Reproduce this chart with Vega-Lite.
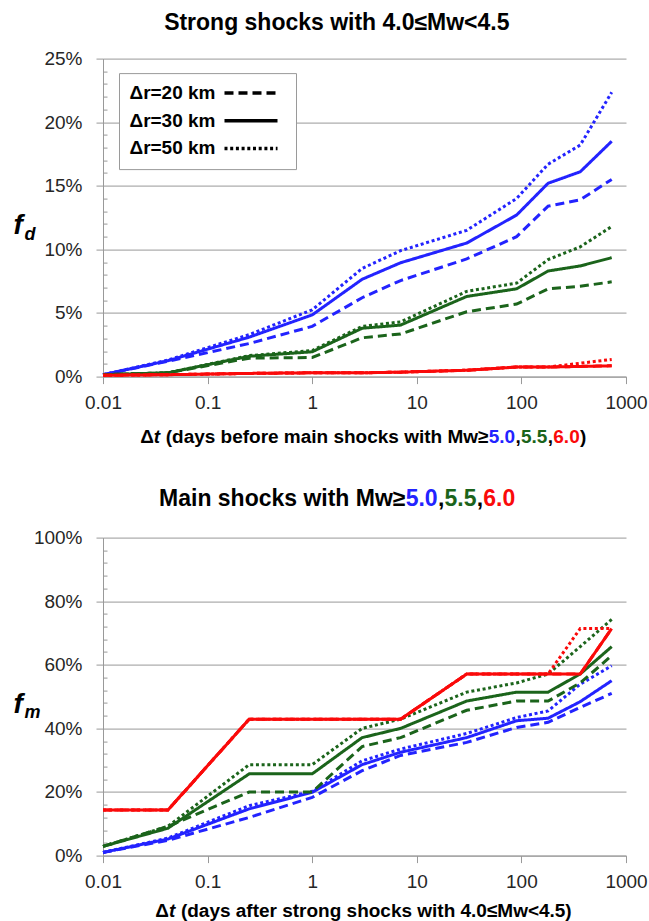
{
  "$schema": "https://vega.github.io/schema/vega-lite/v6.json",
  "padding": {"left": 13, "top": 10.6, "right": 5, "bottom": 2},
  "bounds": "flush",
  "spacing": 161,
  "datasets": {
    "top": [
      {"mw":"5.0","dr":"Δr=20 km","t":0.01,"f":0.15},{"mw":"5.0","dr":"Δr=20 km","t":0.0417,"f":1.2},{"mw":"5.0","dr":"Δr=20 km","t":0.25,"f":2.6},{"mw":"5.0","dr":"Δr=20 km","t":1,"f":3.95},{"mw":"5.0","dr":"Δr=20 km","t":3,"f":6.2},{"mw":"5.0","dr":"Δr=20 km","t":7,"f":7.55},{"mw":"5.0","dr":"Δr=20 km","t":30,"f":9.25},{"mw":"5.0","dr":"Δr=20 km","t":90,"f":11.0},{"mw":"5.0","dr":"Δr=20 km","t":180,"f":13.4},{"mw":"5.0","dr":"Δr=20 km","t":365,"f":13.9},{"mw":"5.0","dr":"Δr=20 km","t":730,"f":15.5},
      {"mw":"5.0","dr":"Δr=30 km","t":0.01,"f":0.15},{"mw":"5.0","dr":"Δr=30 km","t":0.0417,"f":1.25},{"mw":"5.0","dr":"Δr=30 km","t":0.25,"f":3.1},{"mw":"5.0","dr":"Δr=30 km","t":1,"f":4.85},{"mw":"5.0","dr":"Δr=30 km","t":3,"f":7.65},{"mw":"5.0","dr":"Δr=30 km","t":7,"f":8.95},{"mw":"5.0","dr":"Δr=30 km","t":30,"f":10.5},{"mw":"5.0","dr":"Δr=30 km","t":90,"f":12.7},{"mw":"5.0","dr":"Δr=30 km","t":180,"f":15.2},{"mw":"5.0","dr":"Δr=30 km","t":365,"f":16.1},{"mw":"5.0","dr":"Δr=30 km","t":730,"f":18.5},
      {"mw":"5.0","dr":"Δr=50 km","t":0.01,"f":0.15},{"mw":"5.0","dr":"Δr=50 km","t":0.0417,"f":1.3},{"mw":"5.0","dr":"Δr=50 km","t":0.25,"f":3.3},{"mw":"5.0","dr":"Δr=50 km","t":1,"f":5.25},{"mw":"5.0","dr":"Δr=50 km","t":3,"f":8.5},{"mw":"5.0","dr":"Δr=50 km","t":7,"f":9.9},{"mw":"5.0","dr":"Δr=50 km","t":30,"f":11.5},{"mw":"5.0","dr":"Δr=50 km","t":90,"f":14.0},{"mw":"5.0","dr":"Δr=50 km","t":180,"f":16.7},{"mw":"5.0","dr":"Δr=50 km","t":365,"f":18.2},{"mw":"5.0","dr":"Δr=50 km","t":730,"f":22.35},
      {"mw":"5.5","dr":"Δr=20 km","t":0.01,"f":0.15},{"mw":"5.5","dr":"Δr=20 km","t":0.0417,"f":0.3},{"mw":"5.5","dr":"Δr=20 km","t":0.25,"f":1.45},{"mw":"5.5","dr":"Δr=20 km","t":1,"f":1.5},{"mw":"5.5","dr":"Δr=20 km","t":3,"f":3.05},{"mw":"5.5","dr":"Δr=20 km","t":7,"f":3.35},{"mw":"5.5","dr":"Δr=20 km","t":30,"f":5.1},{"mw":"5.5","dr":"Δr=20 km","t":90,"f":5.7},{"mw":"5.5","dr":"Δr=20 km","t":180,"f":6.9},{"mw":"5.5","dr":"Δr=20 km","t":365,"f":7.1},{"mw":"5.5","dr":"Δr=20 km","t":730,"f":7.45},
      {"mw":"5.5","dr":"Δr=30 km","t":0.01,"f":0.15},{"mw":"5.5","dr":"Δr=30 km","t":0.0417,"f":0.3},{"mw":"5.5","dr":"Δr=30 km","t":0.25,"f":1.6},{"mw":"5.5","dr":"Δr=30 km","t":1,"f":1.95},{"mw":"5.5","dr":"Δr=30 km","t":3,"f":3.8},{"mw":"5.5","dr":"Δr=30 km","t":7,"f":4.05},{"mw":"5.5","dr":"Δr=30 km","t":30,"f":6.3},{"mw":"5.5","dr":"Δr=30 km","t":90,"f":6.9},{"mw":"5.5","dr":"Δr=30 km","t":180,"f":8.3},{"mw":"5.5","dr":"Δr=30 km","t":365,"f":8.7},{"mw":"5.5","dr":"Δr=30 km","t":730,"f":9.35},
      {"mw":"5.5","dr":"Δr=50 km","t":0.01,"f":0.15},{"mw":"5.5","dr":"Δr=50 km","t":0.0417,"f":0.3},{"mw":"5.5","dr":"Δr=50 km","t":0.25,"f":1.65},{"mw":"5.5","dr":"Δr=50 km","t":1,"f":2.05},{"mw":"5.5","dr":"Δr=50 km","t":3,"f":3.95},{"mw":"5.5","dr":"Δr=50 km","t":7,"f":4.3},{"mw":"5.5","dr":"Δr=50 km","t":30,"f":6.7},{"mw":"5.5","dr":"Δr=50 km","t":90,"f":7.35},{"mw":"5.5","dr":"Δr=50 km","t":180,"f":9.2},{"mw":"5.5","dr":"Δr=50 km","t":365,"f":10.2},{"mw":"5.5","dr":"Δr=50 km","t":730,"f":11.8},
      {"mw":"6.0","dr":"Δr=20 km","t":0.01,"f":0.1},{"mw":"6.0","dr":"Δr=20 km","t":0.0417,"f":0.15},{"mw":"6.0","dr":"Δr=20 km","t":0.25,"f":0.25},{"mw":"6.0","dr":"Δr=20 km","t":1,"f":0.3},{"mw":"6.0","dr":"Δr=20 km","t":3,"f":0.3},{"mw":"6.0","dr":"Δr=20 km","t":7,"f":0.35},{"mw":"6.0","dr":"Δr=20 km","t":30,"f":0.5},{"mw":"6.0","dr":"Δr=20 km","t":90,"f":0.75},{"mw":"6.0","dr":"Δr=20 km","t":180,"f":0.75},{"mw":"6.0","dr":"Δr=20 km","t":365,"f":0.8},{"mw":"6.0","dr":"Δr=20 km","t":730,"f":0.85},
      {"mw":"6.0","dr":"Δr=30 km","t":0.01,"f":0.1},{"mw":"6.0","dr":"Δr=30 km","t":0.0417,"f":0.15},{"mw":"6.0","dr":"Δr=30 km","t":0.25,"f":0.25},{"mw":"6.0","dr":"Δr=30 km","t":1,"f":0.3},{"mw":"6.0","dr":"Δr=30 km","t":3,"f":0.3},{"mw":"6.0","dr":"Δr=30 km","t":7,"f":0.35},{"mw":"6.0","dr":"Δr=30 km","t":30,"f":0.5},{"mw":"6.0","dr":"Δr=30 km","t":90,"f":0.75},{"mw":"6.0","dr":"Δr=30 km","t":180,"f":0.75},{"mw":"6.0","dr":"Δr=30 km","t":365,"f":0.8},{"mw":"6.0","dr":"Δr=30 km","t":730,"f":0.85},
      {"mw":"6.0","dr":"Δr=50 km","t":0.01,"f":0.1},{"mw":"6.0","dr":"Δr=50 km","t":0.0417,"f":0.15},{"mw":"6.0","dr":"Δr=50 km","t":0.25,"f":0.25},{"mw":"6.0","dr":"Δr=50 km","t":1,"f":0.3},{"mw":"6.0","dr":"Δr=50 km","t":3,"f":0.3},{"mw":"6.0","dr":"Δr=50 km","t":7,"f":0.35},{"mw":"6.0","dr":"Δr=50 km","t":30,"f":0.5},{"mw":"6.0","dr":"Δr=50 km","t":90,"f":0.75},{"mw":"6.0","dr":"Δr=50 km","t":180,"f":0.75},{"mw":"6.0","dr":"Δr=50 km","t":365,"f":1.05},{"mw":"6.0","dr":"Δr=50 km","t":730,"f":1.35}
    ],
    "bottom": [
      {"mw":"5.0","dr":"Δr=20 km","t":0.01,"f":1.0},{"mw":"5.0","dr":"Δr=20 km","t":0.0417,"f":4.8},{"mw":"5.0","dr":"Δr=20 km","t":0.25,"f":12.0},{"mw":"5.0","dr":"Δr=20 km","t":1,"f":18.3},{"mw":"5.0","dr":"Δr=20 km","t":3,"f":26.7},{"mw":"5.0","dr":"Δr=20 km","t":7,"f":31.5},{"mw":"5.0","dr":"Δr=20 km","t":30,"f":35.6},{"mw":"5.0","dr":"Δr=20 km","t":90,"f":40.3},{"mw":"5.0","dr":"Δr=20 km","t":180,"f":41.9},{"mw":"5.0","dr":"Δr=20 km","t":365,"f":46.6},{"mw":"5.0","dr":"Δr=20 km","t":730,"f":51.0},
      {"mw":"5.0","dr":"Δr=30 km","t":0.01,"f":1.0},{"mw":"5.0","dr":"Δr=30 km","t":0.0417,"f":5.2},{"mw":"5.0","dr":"Δr=30 km","t":0.25,"f":14.7},{"mw":"5.0","dr":"Δr=30 km","t":1,"f":19.9},{"mw":"5.0","dr":"Δr=30 km","t":3,"f":28.6},{"mw":"5.0","dr":"Δr=30 km","t":7,"f":32.5},{"mw":"5.0","dr":"Δr=30 km","t":30,"f":37.1},{"mw":"5.0","dr":"Δr=30 km","t":90,"f":42.4},{"mw":"5.0","dr":"Δr=30 km","t":180,"f":43.2},{"mw":"5.0","dr":"Δr=30 km","t":365,"f":48.4},{"mw":"5.0","dr":"Δr=30 km","t":730,"f":55.0},
      {"mw":"5.0","dr":"Δr=50 km","t":0.01,"f":1.0},{"mw":"5.0","dr":"Δr=50 km","t":0.0417,"f":5.5},{"mw":"5.0","dr":"Δr=50 km","t":0.25,"f":15.7},{"mw":"5.0","dr":"Δr=50 km","t":1,"f":20.2},{"mw":"5.0","dr":"Δr=50 km","t":3,"f":29.8},{"mw":"5.0","dr":"Δr=50 km","t":7,"f":33.5},{"mw":"5.0","dr":"Δr=50 km","t":30,"f":38.4},{"mw":"5.0","dr":"Δr=50 km","t":90,"f":43.4},{"mw":"5.0","dr":"Δr=50 km","t":180,"f":45.5},{"mw":"5.0","dr":"Δr=50 km","t":365,"f":53.9},{"mw":"5.0","dr":"Δr=50 km","t":730,"f":59.7},
      {"mw":"5.5","dr":"Δr=20 km","t":0.01,"f":2.9},{"mw":"5.5","dr":"Δr=20 km","t":0.0417,"f":9.2},{"mw":"5.5","dr":"Δr=20 km","t":0.25,"f":20.0},{"mw":"5.5","dr":"Δr=20 km","t":1,"f":20.0},{"mw":"5.5","dr":"Δr=20 km","t":3,"f":34.3},{"mw":"5.5","dr":"Δr=20 km","t":7,"f":37.1},{"mw":"5.5","dr":"Δr=20 km","t":30,"f":45.7},{"mw":"5.5","dr":"Δr=20 km","t":90,"f":48.6},{"mw":"5.5","dr":"Δr=20 km","t":180,"f":48.6},{"mw":"5.5","dr":"Δr=20 km","t":365,"f":54.3},{"mw":"5.5","dr":"Δr=20 km","t":730,"f":62.9},
      {"mw":"5.5","dr":"Δr=30 km","t":0.01,"f":2.9},{"mw":"5.5","dr":"Δr=30 km","t":0.0417,"f":8.6},{"mw":"5.5","dr":"Δr=30 km","t":0.25,"f":25.7},{"mw":"5.5","dr":"Δr=30 km","t":1,"f":25.7},{"mw":"5.5","dr":"Δr=30 km","t":3,"f":37.1},{"mw":"5.5","dr":"Δr=30 km","t":7,"f":40.0},{"mw":"5.5","dr":"Δr=30 km","t":30,"f":48.6},{"mw":"5.5","dr":"Δr=30 km","t":90,"f":51.4},{"mw":"5.5","dr":"Δr=30 km","t":180,"f":51.4},{"mw":"5.5","dr":"Δr=30 km","t":365,"f":57.1},{"mw":"5.5","dr":"Δr=30 km","t":730,"f":65.7},
      {"mw":"5.5","dr":"Δr=50 km","t":0.01,"f":2.9},{"mw":"5.5","dr":"Δr=50 km","t":0.0417,"f":9.2},{"mw":"5.5","dr":"Δr=50 km","t":0.25,"f":28.6},{"mw":"5.5","dr":"Δr=50 km","t":1,"f":28.6},{"mw":"5.5","dr":"Δr=50 km","t":3,"f":40.0},{"mw":"5.5","dr":"Δr=50 km","t":7,"f":42.9},{"mw":"5.5","dr":"Δr=50 km","t":30,"f":51.4},{"mw":"5.5","dr":"Δr=50 km","t":90,"f":54.3},{"mw":"5.5","dr":"Δr=50 km","t":180,"f":57.1},{"mw":"5.5","dr":"Δr=50 km","t":365,"f":65.7},{"mw":"5.5","dr":"Δr=50 km","t":730,"f":74.3},
      {"mw":"6.0","dr":"Δr=20 km","t":0.01,"f":14.3},{"mw":"6.0","dr":"Δr=20 km","t":0.0417,"f":14.3},{"mw":"6.0","dr":"Δr=20 km","t":0.25,"f":42.9},{"mw":"6.0","dr":"Δr=20 km","t":1,"f":42.9},{"mw":"6.0","dr":"Δr=20 km","t":3,"f":42.9},{"mw":"6.0","dr":"Δr=20 km","t":7,"f":42.9},{"mw":"6.0","dr":"Δr=20 km","t":30,"f":57.1},{"mw":"6.0","dr":"Δr=20 km","t":90,"f":57.1},{"mw":"6.0","dr":"Δr=20 km","t":180,"f":57.1},{"mw":"6.0","dr":"Δr=20 km","t":365,"f":57.1},{"mw":"6.0","dr":"Δr=20 km","t":730,"f":71.4},
      {"mw":"6.0","dr":"Δr=30 km","t":0.01,"f":14.3},{"mw":"6.0","dr":"Δr=30 km","t":0.0417,"f":14.3},{"mw":"6.0","dr":"Δr=30 km","t":0.25,"f":42.9},{"mw":"6.0","dr":"Δr=30 km","t":1,"f":42.9},{"mw":"6.0","dr":"Δr=30 km","t":3,"f":42.9},{"mw":"6.0","dr":"Δr=30 km","t":7,"f":42.9},{"mw":"6.0","dr":"Δr=30 km","t":30,"f":57.1},{"mw":"6.0","dr":"Δr=30 km","t":90,"f":57.1},{"mw":"6.0","dr":"Δr=30 km","t":180,"f":57.1},{"mw":"6.0","dr":"Δr=30 km","t":365,"f":57.1},{"mw":"6.0","dr":"Δr=30 km","t":730,"f":71.4},
      {"mw":"6.0","dr":"Δr=50 km","t":0.01,"f":14.3},{"mw":"6.0","dr":"Δr=50 km","t":0.0417,"f":14.3},{"mw":"6.0","dr":"Δr=50 km","t":0.25,"f":42.9},{"mw":"6.0","dr":"Δr=50 km","t":1,"f":42.9},{"mw":"6.0","dr":"Δr=50 km","t":3,"f":42.9},{"mw":"6.0","dr":"Δr=50 km","t":7,"f":42.9},{"mw":"6.0","dr":"Δr=50 km","t":30,"f":57.1},{"mw":"6.0","dr":"Δr=50 km","t":90,"f":57.1},{"mw":"6.0","dr":"Δr=50 km","t":180,"f":57.1},{"mw":"6.0","dr":"Δr=50 km","t":365,"f":71.4},{"mw":"6.0","dr":"Δr=50 km","t":730,"f":71.4}
    ]
  },
  "vconcat": [
    {
      "width": 523,
      "height": 318,
      "data": {"name": "top"},
      "resolve": {"axis": {"x": "independent", "y": "independent"}},
      "layer": [
        {
          "mark": {"type": "line", "strokeWidth": 3},
          "encoding": {
            "x": {"field": "t", "type": "quantitative", "scale": {"type": "log", "domain": [0.01, 1000], "nice": false},
              "axis": {"orient": "bottom", "values": [0.01, 0.1, 1, 10, 100, 1000], "format": "~g", "grid": false, "domainColor": "#999999", "tickColor": "#999999", "tickSize": 7, "labelFontSize": 19, "labelColor": "#262626", "labelBaseline": "alphabetic", "labelPadding": 25, "labelFlush": false, "labelOverlap": false,
                "title": " (days before main shocks with Mw≥", "titleAlign": "right", "titleX": 384.9, "titleY": 65.5, "titleFontSize": 19}},
            "y": {"field": "f", "type": "quantitative", "scale": {"domain": [0, 25], "nice": false},
              "axis": {"orient": "left", "values": [0, 5, 10, 15, 20, 25], "labelExpr": "datum.value + '%'", "grid": true, "gridColor": "#999999", "domainColor": "#999999", "tickColor": "#999999", "tickSize": 7, "labelFontSize": 19, "labelColor": "#262626", "labelPadding": 14,
                "title": "f", "titleAngle": 0, "titleAlign": "left", "titleX": -90, "titleY": 175, "titleFontSize": 28, "titleFontStyle": "italic"}},
            "color": {"field": "mw", "type": "nominal", "scale": {"domain": ["5.0", "5.5", "6.0"], "range": ["#2323FF", "#1B641B", "#FA0A0A"]}, "legend": null},
            "strokeDash": {"field": "dr", "type": "nominal", "scale": {"domain": ["Δr=20 km", "Δr=30 km", "Δr=50 km"], "range": [[9, 5], [1, 0], [3, 2.7]]},
              "legend": {"orient": "none", "legendX": 16, "legendY": 14.5, "title": null, "direction": "vertical", "symbolType": "M-5,0H5", "symbolSize": 112.4, "symbolStrokeWidth": 3.5, "symbolStrokeColor": "#000000", "symbolFillColor": "transparent", "symbolOffset": 112, "labelOffset": -131, "rowPadding": 7.7, "labelFont": "Liberation Sans", "labelFontSize": 19, "labelFontWeight": "bold", "labelColor": "#000000", "fillColor": "#ffffff", "strokeColor": "#9a9a9a", "padding": 10.5}}
          }
        },
        {
          "mark": {"type": "point", "opacity": 0},
          "encoding": {
            "x": {"field": "t", "type": "quantitative", "scale": {"type": "log", "domain": [0.01, 1000], "nice": false},
              "axis": {"orient": "top", "labels": false, "ticks": false, "domain": false, "grid": false, "title": "Strong shocks with 4.0≤Mw<4.5", "titleAlign": "center", "titleX": 233.3, "titleY": -29.5, "titleFontSize": 23}},
            "y": {"field": "f", "type": "quantitative", "scale": {"domain": [0, 25], "nice": false},
              "axis": {"orient": "left", "values": [1, 2, 3, 4, 6, 7, 8, 9, 11, 12, 13, 14, 16, 17, 18, 19, 21, 22, 23, 24], "labels": false, "domain": false, "grid": false, "ticks": true, "tickSize": -4, "tickColor": "#999999",
                "title": "d", "titleAngle": 0, "titleAlign": "left", "titleX": -79, "titleY": 181, "titleFontSize": 18, "titleFontStyle": "italic"}}
          }
        },
        {"mark": {"type": "point", "opacity": 0}, "encoding": {"y": {"field": "f", "type": "quantitative", "scale": {"domain": [0, 25], "nice": false}, "axis": null}, "x": {"field": "t", "type": "quantitative", "scale": {"type": "log", "domain": [0.01, 1000], "nice": false}, "axis": {"orient": "bottom", "labels": false, "ticks": false, "domain": false, "grid": false, "title": "Δ", "titleAlign": "right", "titleX": 50.3, "titleY": 65.5, "titleFontSize": 19, "titleColor": "#000000"}}}},
        {"mark": {"type": "point", "opacity": 0}, "encoding": {"y": {"field": "f", "type": "quantitative", "scale": {"domain": [0, 25], "nice": false}, "axis": null}, "x": {"field": "t", "type": "quantitative", "scale": {"type": "log", "domain": [0.01, 1000], "nice": false}, "axis": {"orient": "bottom", "labels": false, "ticks": false, "domain": false, "grid": false, "title": "t", "titleAlign": "right", "titleX": 56.7, "titleY": 65.5, "titleFontSize": 19, "titleFontStyle": "italic", "titleColor": "#000000"}}}},
        {"mark": {"type": "point", "opacity": 0}, "encoding": {"y": {"field": "f", "type": "quantitative", "scale": {"domain": [0, 25], "nice": false}, "axis": null}, "x": {"field": "t", "type": "quantitative", "scale": {"type": "log", "domain": [0.01, 1000], "nice": false}, "axis": {"orient": "bottom", "labels": false, "ticks": false, "domain": false, "grid": false, "title": "5.0", "titleAlign": "left", "titleX": 385.2, "titleY": 65.5, "titleFontSize": 19, "titleColor": "#2323FF"}}}},
        {"mark": {"type": "point", "opacity": 0}, "encoding": {"y": {"field": "f", "type": "quantitative", "scale": {"domain": [0, 25], "nice": false}, "axis": null}, "x": {"field": "t", "type": "quantitative", "scale": {"type": "log", "domain": [0.01, 1000], "nice": false}, "axis": {"orient": "bottom", "labels": false, "ticks": false, "domain": false, "grid": false, "title": ",", "titleAlign": "left", "titleX": 411.9, "titleY": 65.5, "titleFontSize": 19, "titleColor": "#000000"}}}},
        {"mark": {"type": "point", "opacity": 0}, "encoding": {"y": {"field": "f", "type": "quantitative", "scale": {"domain": [0, 25], "nice": false}, "axis": null}, "x": {"field": "t", "type": "quantitative", "scale": {"type": "log", "domain": [0.01, 1000], "nice": false}, "axis": {"orient": "bottom", "labels": false, "ticks": false, "domain": false, "grid": false, "title": "5.5", "titleAlign": "left", "titleX": 417.5, "titleY": 65.5, "titleFontSize": 19, "titleColor": "#1B641B"}}}},
        {"mark": {"type": "point", "opacity": 0}, "encoding": {"y": {"field": "f", "type": "quantitative", "scale": {"domain": [0, 25], "nice": false}, "axis": null}, "x": {"field": "t", "type": "quantitative", "scale": {"type": "log", "domain": [0.01, 1000], "nice": false}, "axis": {"orient": "bottom", "labels": false, "ticks": false, "domain": false, "grid": false, "title": ",", "titleAlign": "left", "titleX": 444.2, "titleY": 65.5, "titleFontSize": 19, "titleColor": "#000000"}}}},
        {"mark": {"type": "point", "opacity": 0}, "encoding": {"y": {"field": "f", "type": "quantitative", "scale": {"domain": [0, 25], "nice": false}, "axis": null}, "x": {"field": "t", "type": "quantitative", "scale": {"type": "log", "domain": [0.01, 1000], "nice": false}, "axis": {"orient": "bottom", "labels": false, "ticks": false, "domain": false, "grid": false, "title": "6.0", "titleAlign": "left", "titleX": 449.8, "titleY": 65.5, "titleFontSize": 19, "titleColor": "#FA0A0A"}}}},
        {"mark": {"type": "point", "opacity": 0}, "encoding": {"y": {"field": "f", "type": "quantitative", "scale": {"domain": [0, 25], "nice": false}, "axis": null}, "x": {"field": "t", "type": "quantitative", "scale": {"type": "log", "domain": [0.01, 1000], "nice": false}, "axis": {"orient": "bottom", "labels": false, "ticks": false, "domain": false, "grid": false, "title": ")", "titleAlign": "left", "titleX": 476.5, "titleY": 65.5, "titleFontSize": 19, "titleColor": "#000000"}}}}
      ]
    },
    {
      "width": 523,
      "height": 318,
      "data": {"name": "bottom"},
      "resolve": {"axis": {"x": "independent", "y": "independent"}},
      "layer": [
        {
          "mark": {"type": "line", "strokeWidth": 3},
          "encoding": {
            "x": {"field": "t", "type": "quantitative", "scale": {"type": "log", "domain": [0.01, 1000], "nice": false},
              "axis": {"orient": "bottom", "values": [0.01, 0.1, 1, 10, 100, 1000], "format": "~g", "grid": false, "domainColor": "#999999", "tickColor": "#999999", "tickSize": 7, "labelFontSize": 19, "labelColor": "#262626", "labelBaseline": "alphabetic", "labelPadding": 25, "labelFlush": false, "labelOverlap": false,
                "title": " (days after strong shocks with 4.0≤Mw<4.5)", "titleAlign": "right", "titleX": 468.2, "titleY": 60.5, "titleFontSize": 19}},
            "y": {"field": "f", "type": "quantitative", "scale": {"domain": [0, 100], "nice": false},
              "axis": {"orient": "left", "values": [0, 20, 40, 60, 80, 100], "labelExpr": "datum.value + '%'", "grid": true, "gridColor": "#999999", "domainColor": "#999999", "tickColor": "#999999", "tickSize": 7, "labelFontSize": 19, "labelColor": "#262626", "labelPadding": 14,
                "title": "f", "titleAngle": 0, "titleAlign": "left", "titleX": -90, "titleY": 175, "titleFontSize": 28, "titleFontStyle": "italic"}},
            "color": {"field": "mw", "type": "nominal", "scale": {"domain": ["5.0", "5.5", "6.0"], "range": ["#2323FF", "#1B641B", "#FA0A0A"]}, "legend": null},
            "strokeDash": {"field": "dr", "type": "nominal", "scale": {"domain": ["Δr=20 km", "Δr=30 km", "Δr=50 km"], "range": [[9, 5], [1, 0], [3, 2.7]]},
              "legend": {"orient": "none", "legendX": 27, "legendY": 15.4, "title": null, "direction": "vertical", "symbolType": "M-5,0H5", "symbolSize": 112.4, "symbolStrokeWidth": 3.5, "symbolStrokeColor": "#000000", "symbolFillColor": "transparent", "symbolOffset": 112, "labelOffset": -131, "rowPadding": 7.7, "labelFont": "Liberation Sans", "labelFontSize": 19, "labelFontWeight": "bold", "labelColor": "#000000", "fillColor": "#ffffff", "strokeColor": "#9a9a9a", "padding": 10.5}}
          }
        },
        {
          "mark": {"type": "point", "opacity": 0},
          "encoding": {
            "x": {"field": "t", "type": "quantitative", "scale": {"type": "log", "domain": [0.01, 1000], "nice": false},
              "axis": {"orient": "top", "labels": false, "ticks": false, "domain": false, "grid": false, "title": "Main shocks with Mw≥", "titleAlign": "right", "titleX": 301.9, "titleY": -32.3, "titleFontSize": 23, "titleColor": "#000000"}},
            "y": {"field": "f", "type": "quantitative", "scale": {"domain": [0, 100], "nice": false},
              "axis": {"orient": "left", "values": [4, 8, 12, 16, 24, 28, 32, 36, 44, 48, 52, 56, 64, 68, 72, 76, 84, 88, 92, 96], "labels": false, "domain": false, "grid": false, "ticks": true, "tickSize": -4, "tickColor": "#999999",
                "title": "m", "titleAngle": 0, "titleAlign": "left", "titleX": -79, "titleY": 180, "titleFontSize": 18, "titleFontStyle": "italic"}}
          }
        },
        {"mark": {"type": "point", "opacity": 0}, "encoding": {"y": {"field": "f", "type": "quantitative", "scale": {"domain": [0, 100], "nice": false}, "axis": null}, "x": {"field": "t", "type": "quantitative", "scale": {"type": "log", "domain": [0.01, 1000], "nice": false}, "axis": {"orient": "bottom", "labels": false, "ticks": false, "domain": false, "grid": false, "title": "Δ", "titleAlign": "right", "titleX": 65.5, "titleY": 60.5, "titleFontSize": 19, "titleColor": "#000000"}}}},
        {"mark": {"type": "point", "opacity": 0}, "encoding": {"y": {"field": "f", "type": "quantitative", "scale": {"domain": [0, 100], "nice": false}, "axis": null}, "x": {"field": "t", "type": "quantitative", "scale": {"type": "log", "domain": [0.01, 1000], "nice": false}, "axis": {"orient": "bottom", "labels": false, "ticks": false, "domain": false, "grid": false, "title": "t", "titleAlign": "left", "titleX": 65.5, "titleY": 60.5, "titleFontSize": 19, "titleFontStyle": "italic", "titleColor": "#000000"}}}},
        {"mark": {"type": "point", "opacity": 0}, "encoding": {"y": {"field": "f", "type": "quantitative", "scale": {"domain": [0, 100], "nice": false}, "axis": null}, "x": {"field": "t", "type": "quantitative", "scale": {"type": "log", "domain": [0.01, 1000], "nice": false}, "axis": {"orient": "top", "labels": false, "ticks": false, "domain": false, "grid": false, "title": "5.0", "titleAlign": "left", "titleX": 302.2, "titleY": -32.3, "titleFontSize": 23, "titleColor": "#2323FF"}}}},
        {"mark": {"type": "point", "opacity": 0}, "encoding": {"y": {"field": "f", "type": "quantitative", "scale": {"domain": [0, 100], "nice": false}, "axis": null}, "x": {"field": "t", "type": "quantitative", "scale": {"type": "log", "domain": [0.01, 1000], "nice": false}, "axis": {"orient": "top", "labels": false, "ticks": false, "domain": false, "grid": false, "title": ",", "titleAlign": "left", "titleX": 334.4, "titleY": -32.3, "titleFontSize": 23, "titleColor": "#000000"}}}},
        {"mark": {"type": "point", "opacity": 0}, "encoding": {"y": {"field": "f", "type": "quantitative", "scale": {"domain": [0, 100], "nice": false}, "axis": null}, "x": {"field": "t", "type": "quantitative", "scale": {"type": "log", "domain": [0.01, 1000], "nice": false}, "axis": {"orient": "top", "labels": false, "ticks": false, "domain": false, "grid": false, "title": "5.5", "titleAlign": "left", "titleX": 341.0, "titleY": -32.3, "titleFontSize": 23, "titleColor": "#1B641B"}}}},
        {"mark": {"type": "point", "opacity": 0}, "encoding": {"y": {"field": "f", "type": "quantitative", "scale": {"domain": [0, 100], "nice": false}, "axis": null}, "x": {"field": "t", "type": "quantitative", "scale": {"type": "log", "domain": [0.01, 1000], "nice": false}, "axis": {"orient": "top", "labels": false, "ticks": false, "domain": false, "grid": false, "title": ",", "titleAlign": "left", "titleX": 373.2, "titleY": -32.3, "titleFontSize": 23, "titleColor": "#000000"}}}},
        {"mark": {"type": "point", "opacity": 0}, "encoding": {"y": {"field": "f", "type": "quantitative", "scale": {"domain": [0, 100], "nice": false}, "axis": null}, "x": {"field": "t", "type": "quantitative", "scale": {"type": "log", "domain": [0.01, 1000], "nice": false}, "axis": {"orient": "top", "labels": false, "ticks": false, "domain": false, "grid": false, "title": "6.0", "titleAlign": "left", "titleX": 379.8, "titleY": -32.3, "titleFontSize": 23, "titleColor": "#FA0A0A"}}}}
      ]
    }
  ],
  "config": {
    "view": {"stroke": null},
    "font": "Liberation Sans",
    "axis": {"labelFont": "Liberation Sans", "titleFont": "Liberation Sans", "titleFontWeight": "bold", "titleColor": "#000000", "titleBaseline": "alphabetic", "titlePadding": 0}
  }
}
